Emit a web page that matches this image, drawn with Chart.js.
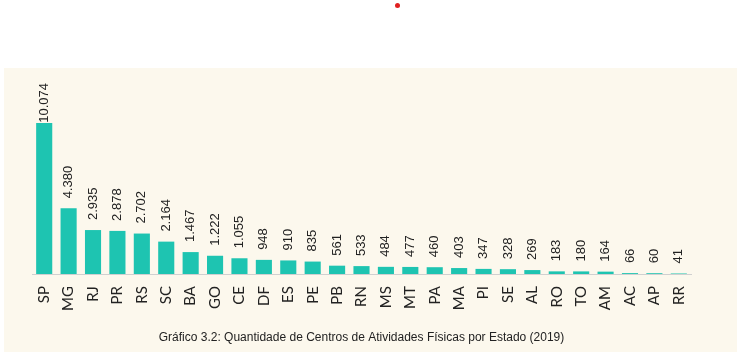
<!DOCTYPE html>
<html>
<head>
<meta charset="utf-8">
<script src="https://cdn.jsdelivr.net/npm/chart.js@4.4.0/dist/chart.umd.min.js"></script>
<style>
  html, body { margin: 0; padding: 0; background: #fff; }
  body { width: 740px; height: 352px; position: relative; overflow: hidden; }
  #dot { position: absolute; left: 395px; top: 3px; width: 5px; height: 5px; border-radius: 50%; background: #e02020; }
  #panel { position: absolute; left: 4px; top: 68px; width: 733px; height: 284px; background: #fcf8ed; }
</style>
</head>
<body>
<div id="dot"></div>
<div id="panel"><canvas id="chart" width="733" height="284"></canvas></div>
<script>
const estados = ['SP', 'MG', 'RJ', 'PR', 'RS', 'SC', 'BA', 'GO', 'CE', 'DF', 'ES', 'PE', 'PB', 'RN', 'MS', 'MT', 'PA', 'MA', 'PI', 'SE', 'AL', 'RO', 'TO', 'AM', 'AC', 'AP', 'RR'];
const centros = [10074, 4380, 2935, 2878, 2702, 2164, 1467, 1222, 1055, 948, 910, 835, 561, 533, 484, 477, 460, 403, 347, 328, 269, 183, 180, 164, 66, 60, 41];
const titulo = 'Gráfico 3.2: Quantidade de Centros de Atividades Físicas por Estado (2019)';

// thousands with a dot, as in the original
function fmt(v) {
    return String(v).replace(/\B(?=(\d{3})+(?!\d))/g, '.');
}

// rotated value above each bar, kept inside the top of the panel
const valueLabels = {
    id: 'valueLabels',
    afterDatasetsDraw(chart) {
        const ctx = chart.ctx;
        const meta = chart.getDatasetMeta(0);
        ctx.save();
        ctx.font = '13px "Liberation Sans", Arial, sans-serif';
        ctx.fillStyle = '#222';
        ctx.textAlign = 'left';
        ctx.textBaseline = 'middle';
        meta.data.forEach((bar, i) => {
            const txt = fmt(centros[i]);
            const w = ctx.measureText(txt).width;
            const start = Math.max(bar.y - 10, 15 + w);
            ctx.save();
            ctx.translate(bar.x, start);
            ctx.rotate(-Math.PI / 2);
            ctx.fillText(txt, 0, 0);
            ctx.restore();
        });
        ctx.restore();
    }
};

new Chart(document.getElementById('chart').getContext('2d'), {
    type: 'bar',
    data: {
        labels: estados,
        datasets: [{
            data: centros,
            backgroundColor: '#1ec4b1',
            barPercentage: 0.66,
            categoryPercentage: 1
        }]
    },
    options: {
        responsive: false,
        animation: false,
        layout: { padding: { left: 28, right: 46, top: 26, bottom: 0 } },
        plugins: {
            legend: { display: false },
            tooltip: { enabled: false },
            title: {
                display: true,
                position: 'bottom',
                text: titulo,
                color: '#222',
                font: { family: '"Liberation Sans", Arial, sans-serif', size: 12, weight: 'normal' },
                padding: { top: 16.5, bottom: 7 }
            }
        },
        scales: {
            x: {
                grid: { display: false },
                border: { color: '#d0d0d0' },
                ticks: {
                    maxRotation: 90, minRotation: 90, autoSkip: false,
                    color: '#222', padding: 4,
                    font: { family: 'Lato, sans-serif', size: 15 }
                },
                afterFit(scale) { scale.height = 40; }
            },
            y: { display: false, min: 0, max: 12000 }
        }
    },
    plugins: [valueLabels]
});
</script>
</body>
</html>
